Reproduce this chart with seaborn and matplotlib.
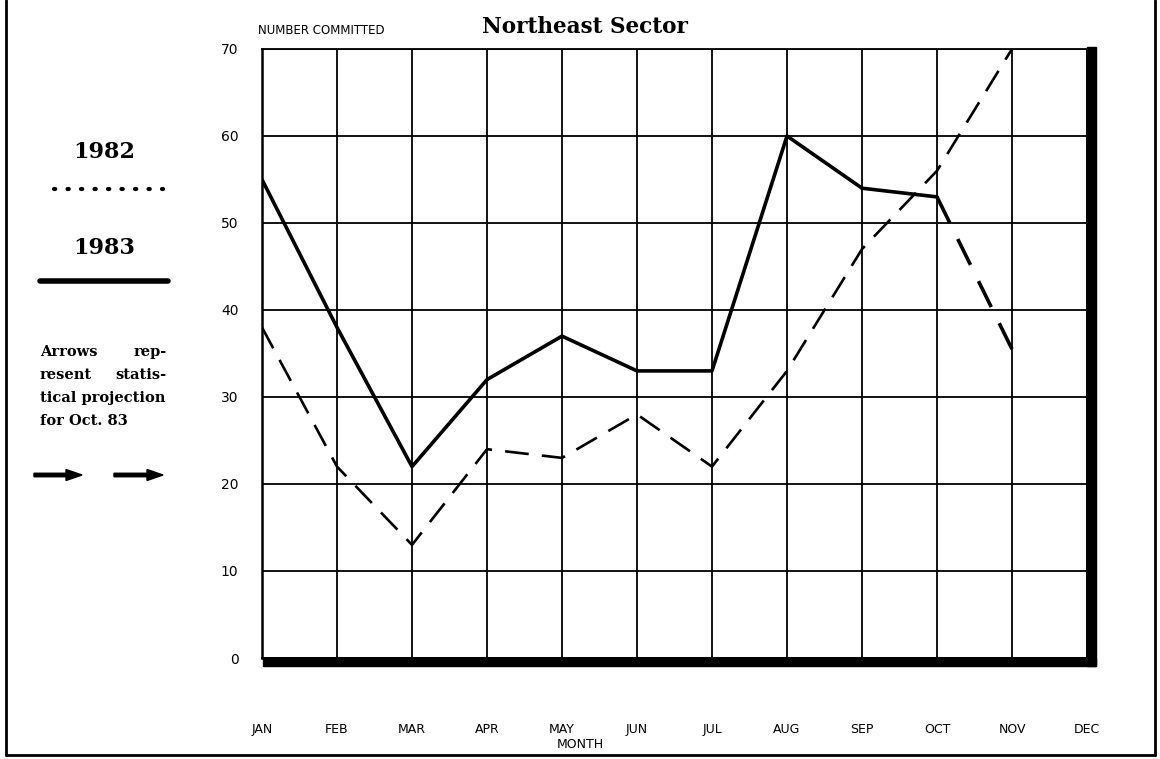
from matplotlib import pyplot as plt
from matplotlib import font_manager
from matplotlib.patches import Rectangle, FancyArrow
from matplotlib.lines import Line2D
import pandas as pd
import seaborn as sns

months = ['JAN', 'FEB', 'MAR', 'APR', 'MAY', 'JUN',
          'JUL', 'AUG', 'SEP', 'OCT', 'NOV', 'DEC']
months_1982 = months[:11]
values_1982 = [38, 22, 13, 24, 23, 28, 22, 33, 47, 56, 70]
months_1983 = months[:10]
values_1983 = [55, 38, 22, 32, 37, 33, 33, 60, 54, 53]
proj_months = ['OCT', 'NOV']
proj_values = [53, 35.5]
y_ticks = [0, 10, 20, 30, 40, 50, 60, 70]

df82 = pd.DataFrame({'month': months_1982, 'value': values_1982})
df83 = pd.DataFrame({'month': months_1983, 'value': values_1983})
dfp = pd.DataFrame({'month': proj_months, 'value': proj_values})
for d in (df82, df83, dfp):
    d['pos'] = d['month'].map(months.index)

sns.set_style("white")
names = {f.name for f in font_manager.fontManager.ttflist}
narrow = 'Liberation Sans Narrow' if 'Liberation Sans Narrow' in names else 'DejaVu Sans'
plt.rcParams['font.family'] = [narrow, 'DejaVu Sans']
plt.rcParams['text.color'] = 'black'
plt.rcParams['axes.labelcolor'] = 'black'
plt.rcParams['xtick.color'] = 'black'
plt.rcParams['ytick.color'] = 'black'

fig = plt.figure(figsize=(11.6, 7.59), dpi=100)
W, H = 1160, 759
ax = fig.add_axes([262 / W, 1 - 658 / H, (1087 - 262) / W, (658 - 49) / H])

sns.lineplot(ax=ax, data=df82, x='pos', y='value', color='black',
             lw=1.9, linestyle=(0, (9, 5)))
sns.lineplot(ax=ax, data=df83, x='pos', y='value', color='black', lw=2.6)
sns.lineplot(ax=ax, data=dfp, x='pos', y='value', color='black',
             lw=2.6, linestyle=(0, (8, 5)))

ax.set_xlim(0, 11)
ax.set_ylim(0, 70)
ax.set_xticks(range(len(months)))
ax.set_xticklabels(months, fontsize=9)
ax.set_yticks(y_ticks)
ax.set_yticklabels([str(v) for v in y_ticks], fontsize=10)
ax.set_yticks(range(5, 70, 10), minor=True)
ax.tick_params(axis='x', length=0, pad=47)
ax.tick_params(axis='y', which='major', length=0, pad=17)
ax.tick_params(axis='y', which='minor', direction='in', length=7, width=1, color='black')
ax.grid(True, which='major', color='black', lw=1.3)
ax.set_axisbelow(True)
for s in ax.spines.values():
    s.set_color('black')
    s.set_linewidth(1.3)
ax.spines['left'].set_linewidth(1.8)
ax.set_xlabel('MONTH', fontsize=9)
ax.xaxis.set_label_coords((580 - 262) / 825, -(738 - 658) / 609)
ax.set_ylabel('')

# drop shadow of the chart box
fig.patches.append(Rectangle((263 / W, 1 - 666 / H), (1096 - 263) / W, 8 / H,
                             transform=fig.transFigure, color='black'))
fig.patches.append(Rectangle((1087 / W, 1 - 666 / H), 9 / W, (666 - 47) / H,
                             transform=fig.transFigure, color='black'))

# page frame
for xs, ys in [((6, 6), (0, 755)), ((6, 1155), (755, 755)), ((1155, 1155), (0, 755))]:
    fig.add_artist(Line2D([x / W for x in xs], [1 - y / H for y in ys],
                          transform=fig.transFigure, color='black', lw=2))

fig.text(258 / W, 1 - 30 / H, 'NUMBER COMMITTED', fontsize=8.5, va='center', ha='left')
fig.text(585 / W, 1 - 27 / H, 'Northeast Sector', fontsize=15.5, fontweight='bold',
         family='DejaVu Serif', va='center', ha='center')

# left legend
fig.text(104 / W, 1 - 152 / H, '1982', fontsize=16, fontweight='bold',
         family='DejaVu Serif', ha='center', va='center')
fig.add_artist(Line2D([54 / W, 163 / W], [1 - 189 / H] * 2, transform=fig.transFigure,
                      color='black', lw=3, linestyle=(0, (0.3, 2.94)), dash_capstyle='round'))
fig.text(104 / W, 1 - 248 / H, '1983', fontsize=16, fontweight='bold',
         family='DejaVu Serif', ha='center', va='center')
fig.add_artist(Line2D([40 / W, 168 / W], [1 - 281 / H] * 2, transform=fig.transFigure,
                      color='black', lw=4))

note = [('Arrows', 'rep-', 352), ('resent', 'statis-', 375),
        ('tical projection', None, 398), ('for Oct. 83', None, 421)]
for left, right, y in note:
    fig.text(40 / W, 1 - y / H, left, fontsize=10.5, fontweight='bold',
             family='DejaVu Serif', ha='left', va='center')
    if right:
        fig.text(167 / W, 1 - y / H, right, fontsize=10.5, fontweight='bold',
                 family='DejaVu Serif', ha='right', va='center')

for x0, x1 in [(34, 82), (114, 163)]:
    fig.add_artist(FancyArrow(
        x0 / W, 1 - 475 / H, (x1 - x0) / W, 0, width=3.5 / H, head_width=11 / H,
        head_length=16 / W, length_includes_head=True, color='black',
        transform=fig.transFigure))

fig.savefig('out.png', dpi=100)
